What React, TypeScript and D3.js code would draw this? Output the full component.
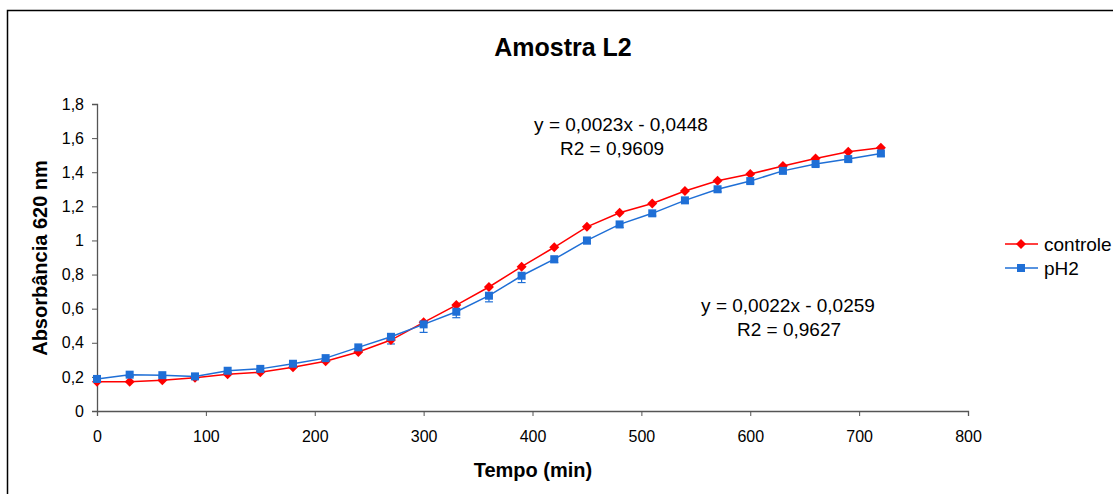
import { useEffect, useRef } from 'react';
import * as d3 from 'd3';

const tempo = [0, 30, 60, 90, 120, 150, 180, 210, 240, 270, 300, 330, 360, 390, 420, 450, 480, 510, 540, 570, 600, 630, 660, 690, 720];
const controle = [0.172, 0.172, 0.18, 0.195, 0.215, 0.227, 0.256, 0.292, 0.346, 0.416, 0.52, 0.621, 0.727, 0.846, 0.96, 1.08, 1.162, 1.217, 1.29, 1.35, 1.39, 1.436, 1.48, 1.52, 1.543];
const pH2 = [0.188, 0.213, 0.21, 0.203, 0.236, 0.247, 0.277, 0.31, 0.373, 0.435, 0.508, 0.582, 0.676, 0.793, 0.89, 1.0, 1.094, 1.159, 1.235, 1.3, 1.348, 1.408, 1.448, 1.477, 1.51];
const pH2Err = [0.01, 0.01, 0.01, 0.01, 0.01, 0.01, 0.01, 0.012, 0.012, 0.042, 0.047, 0.035, 0.036, 0.04, 0.02, 0.02, 0.018, 0.015, 0.015, 0.015, 0.012, 0.012, 0.012, 0.012, 0.015];
const xTicks = [0, 100, 200, 300, 400, 500, 600, 700, 800];
const yTicks = [0, 0.2, 0.4, 0.6, 0.8, 1, 1.2, 1.4, 1.6, 1.8];

const RED = '#ff0000';
const BLUE = '#1f6fd6';
const FONT = 'Arial, "Liberation Sans", sans-serif';

export default function App() {
  const ref = useRef<SVGSVGElement>(null);

  useEffect(() => {
    const svg = d3.select(ref.current);
    svg.selectAll('*').remove();

    const x = d3.scaleLinear().domain([0, 800]).range([97, 968]);
    const y = d3.scaleLinear().domain([0, 1.8]).range([411, 104]);
    const fmt = (v: number) => String(+v.toFixed(1)).replace('.', ',');

    // outer chart frame
    svg.append('rect')
      .attr('x', 7.5).attr('y', 10.5)
      .attr('width', 1300).attr('height', 700)
      .attr('fill', '#fff').attr('stroke', '#000').attr('stroke-width', 1.5);

    // axes
    const xAxis = svg.append('g').attr('transform', 'translate(0,411)')
      .call(d3.axisBottom(x).tickValues(xTicks).tickSize(5).tickPadding(15).tickFormat(d => String(d)));
    const yAxis = svg.append('g').attr('transform', 'translate(97,0)')
      .call(d3.axisLeft(y).tickValues(yTicks).tickSize(5).tickPadding(8).tickFormat(d => fmt(+d)));
    [xAxis, yAxis].forEach(a => {
      a.select('.domain').attr('stroke', '#555').attr('stroke-width', 1.3);
      a.selectAll('.tick line').attr('stroke', '#555');
      a.selectAll('.tick text').attr('fill', '#000').attr('font-family', FONT).attr('font-size', 16);
    });

    const line = d3.line<[number, number]>().x(d => x(d[0])).y(d => y(d[1]));

    // error bars (pH2)
    const eb = svg.append('g').attr('stroke', BLUE).attr('stroke-width', 1.2);
    tempo.forEach((t, i) => {
      const cx = x(t);
      const y0 = y(pH2[i]);
      const y1 = y(pH2[i] - pH2Err[i]);
      eb.append('line').attr('x1', cx).attr('x2', cx).attr('y1', y0).attr('y2', y1);
      eb.append('line').attr('x1', cx - 4).attr('x2', cx + 4).attr('y1', y1).attr('y2', y1);
    });

    const series = [
      { name: 'controle', values: controle, color: RED, shape: 'diamond' },
      { name: 'pH2', values: pH2, color: BLUE, shape: 'square' },
    ];

    const marker = (g: any, cx: number, cy: number, shape: string, color: string) => {
      if (shape === 'diamond') {
        g.append('path')
          .attr('d', `M${cx},${cy - 5}L${cx + 5},${cy}L${cx},${cy + 5}L${cx - 5},${cy}Z`)
          .attr('fill', color);
      } else {
        g.append('rect').attr('x', cx - 4).attr('y', cy - 4).attr('width', 8).attr('height', 8)
          .attr('fill', color);
      }
    };

    series.forEach(s => {
      const pts: [number, number][] = tempo.map((t, i) => [t, s.values[i]]);
      svg.append('path').attr('d', line(pts)).attr('fill', 'none')
        .attr('stroke', s.color).attr('stroke-width', 1.5);
      const g = svg.append('g');
      pts.forEach(p => marker(g, x(p[0]), y(p[1]), s.shape, s.color));
    });

    // trendline labels
    const txt = (tx: number, ty: number, s: string) =>
      svg.append('text').attr('x', tx).attr('y', ty).attr('text-anchor', 'middle')
        .attr('font-family', FONT).attr('font-size', 19).attr('fill', '#000').text(s);
    txt(621, 131, 'y = 0,0023x - 0,0448');
    txt(612, 155, 'R2 = 0,9609');
    txt(788, 312, 'y = 0,0022x - 0,0259');
    txt(789, 336, 'R2 = 0,9627');

    // titles
    svg.append('text').attr('x', 563).attr('y', 56).attr('text-anchor', 'middle')
      .attr('font-family', FONT).attr('font-weight', 'bold').attr('font-size', 25).text('Amostra L2');
    svg.append('text').attr('x', 533).attr('y', 477).attr('text-anchor', 'middle')
      .attr('font-family', FONT).attr('font-weight', 'bold').attr('font-size', 20).text('Tempo (min)');
    svg.append('text').attr('transform', 'translate(47,258) rotate(-90)').attr('text-anchor', 'middle')
      .attr('font-family', FONT).attr('font-weight', 'bold').attr('font-size', 20).text('Absorbância 620 nm');

    // legend
    series.forEach((s, i) => {
      const ly = 244 + i * 24;
      const g = svg.append('g');
      g.append('line').attr('x1', 1005).attr('x2', 1038).attr('y1', ly).attr('y2', ly)
        .attr('stroke', s.color).attr('stroke-width', 1.5);
      marker(g, 1021, ly, s.shape, s.color);
      g.append('text').attr('x', 1044).attr('y', ly + 7).attr('font-family', FONT)
        .attr('font-size', 19).attr('fill', '#000').text(s.name);
    });
  }, []);

  return (
    <svg ref={ref} width={1113} height={494}
      style={{ position: 'absolute', left: 0, top: 0, background: '#fff', overflow: 'hidden' }} />
  );
}
